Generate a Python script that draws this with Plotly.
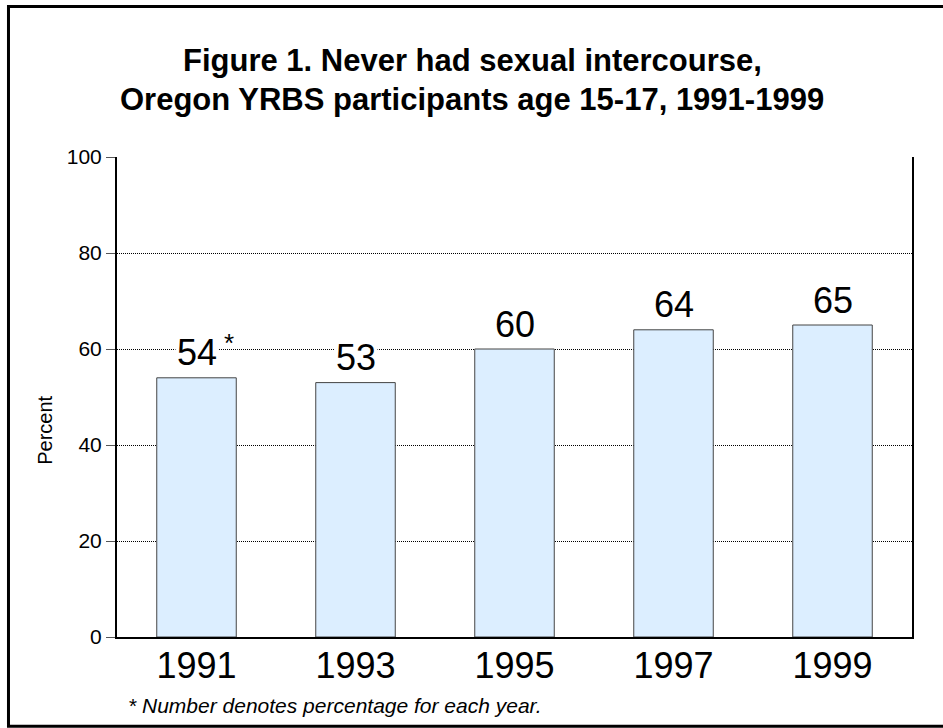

# Figure 1 - Never had sexual intercourse, Oregon YRBS 1991-1999
# Bar chart recreated with plotly

import plotly.graph_objects as go

# Data
years = ['1991', '1993', '1995', '1997', '1999']
never_had_sex = [54, 53, 60, 64, 65]
y_ticks = [0, 20, 40, 60, 80, 100]

title_line1 = 'Figure 1. Never had sexual intercourse,'
title_line2 = 'Oregon YRBS participants age 15-17, 1991-1999'
footnote = '* Number denotes percentage for each year.'

FONT = 'Liberation Sans, Arial, sans-serif'

fig = go.Figure()
fig.add_trace(go.Bar(
    x=years,
    y=never_had_sex,
    marker=dict(color='#DCEEFF', line=dict(color='#444444', width=1)),
    hoverinfo='x+y',
))

# Value labels above each bar (white background hides the gridline)
for i, val in enumerate(never_had_sex):
    fig.add_annotation(x=i, y=val, text=str(val), showarrow=False,
                       yanchor='middle', yshift=25, bgcolor='white',
                       font=dict(family=FONT, size=36, color='black'))
# asterisk next to first label
fig.add_annotation(x=0, y=never_had_sex[0], text='*', showarrow=False,
                   xshift=32, yshift=35, font=dict(family=FONT, size=26, color='black'))

# Title lines
fig.add_annotation(xref='paper', yref='paper', x=0.447, y=1.202, text='<b>' + title_line1 + '</b>',
                   showarrow=False, xanchor='center', yanchor='middle',
                   font=dict(family=FONT, size=31, color='black'))
fig.add_annotation(xref='paper', yref='paper', x=0.447, y=1.119, text='<b>' + title_line2 + '</b>',
                   showarrow=False, xanchor='center', yanchor='middle',
                   font=dict(family=FONT, size=31, color='black'))

# Y axis label
fig.add_annotation(xref='paper', yref='paper', x=-0.091, y=0.431, text='Percent',
                   textangle=-90, showarrow=False, xanchor='center', yanchor='middle',
                   font=dict(family=FONT, size=20, color='black'))

# Footnote
fig.add_annotation(xref='paper', yref='paper', x=0.011, y=-0.142, text='<i>' + footnote + '</i>',
                   showarrow=False, xanchor='left', yanchor='middle',
                   font=dict(family=FONT, size=21, color='black'))

# Outer frame (left, top, bottom; the right edge runs off the page)
fig.add_shape(type='rect', xref='paper', yref='paper',
              x0=-0.1365, x1=1.1, y0=-0.1858, y1=1.3135,
              line=dict(color='black', width=3))

fig.update_layout(
    width=943,
    height=728,
    margin=dict(l=117, r=31, t=157, b=91),
    paper_bgcolor='white',
    plot_bgcolor='white',
    showlegend=False,
    bargap=0.5,
    font=dict(family=FONT, color='black'),
)

fig.update_xaxes(
    type='category',
    categoryorder='array', categoryarray=years,
    range=[-0.5, len(years) - 0.5],
    showline=True, linecolor='black', linewidth=2,
    showgrid=False, ticks='',
    ticklabelstandoff=-4,
    tickfont=dict(family=FONT, size=36, color='black'),
)

fig.update_yaxes(
    range=[0, 100],
    tickvals=y_ticks,
    showline=True, linecolor='black', linewidth=2, mirror=True,
    showgrid=True, gridcolor='black', gridwidth=1, griddash='1px,1px',
    zeroline=False,
    ticks='outside', ticklen=9, tickcolor='#555555', tickwidth=1,
    tickfont=dict(family=FONT, size=21, color='black'),
)

# drop the default page margin so the figure sits at the window's corner
fig.write_html('out.html', config={'displayModeBar': False},
               post_script="document.body.style.margin='0';")
